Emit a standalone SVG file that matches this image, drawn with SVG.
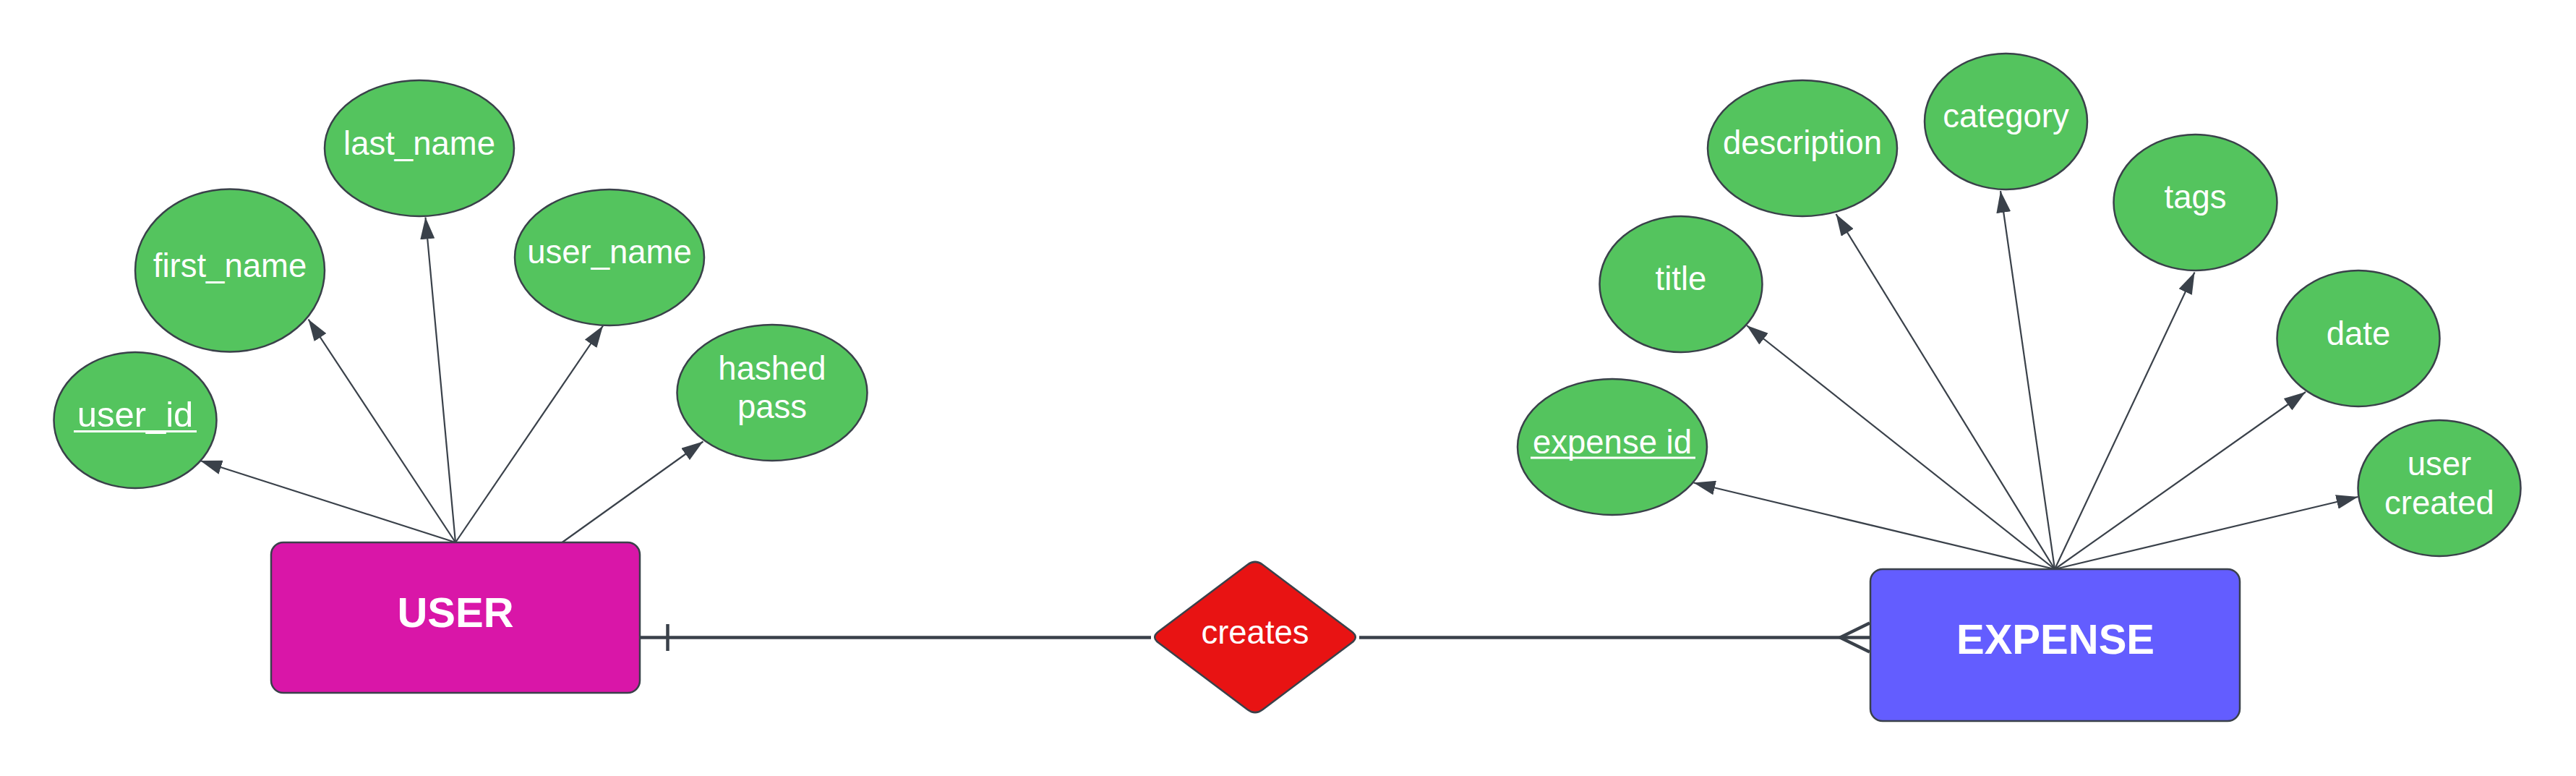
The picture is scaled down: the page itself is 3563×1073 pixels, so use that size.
<svg xmlns="http://www.w3.org/2000/svg" width="3563" height="1073" viewBox="0 0 3563 1073">
<style>
.attr{fill:#54C45E;stroke:#3A414A;stroke-width:2.5}
.t{font-family:"Liberation Sans",Arial,sans-serif;font-size:45.5px;fill:#ffffff;text-anchor:middle}
.ent{font-family:"Liberation Sans",Arial,sans-serif;font-size:58px;font-weight:bold;fill:#ffffff;text-anchor:middle}
.ul{stroke:#ffffff;stroke-width:3}
.arr{stroke:#3A414A;stroke-width:2.2;fill:none;marker-end:url(#ah)}
.rel{stroke:#3A414A;stroke-width:4.5;fill:none}
</style>
<defs>
<marker id="ah" markerUnits="userSpaceOnUse" markerWidth="30" markerHeight="20" refX="30" refY="10" orient="auto" viewBox="0 0 30 20">
<path d="M0,0 L30,10 L0,20 Z" fill="#3A414A"/>
</marker>
</defs>
<rect width="3563" height="1073" fill="#ffffff"/>

<g id="user">
<rect x="375" y="750" width="510" height="208" rx="17" fill="#D916A8" stroke="#3A414A" stroke-width="2.5"/>
<text class="ent" x="630" y="867">USER</text>
</g>
<g id="user_id">
<ellipse class="attr" cx="187" cy="581" rx="112.5" ry="94"/>
<text class="t" x="187" y="590" style="font-size:49px">user_id</text>
<line class="ul" x1="102" y1="596.5" x2="272" y2="596.5"/>
</g>
<g id="first_name">
<ellipse class="attr" cx="318" cy="374" rx="131" ry="112.5"/>
<text class="t" x="318" y="383">first_name</text>
</g>
<g id="last_name">
<ellipse class="attr" cx="580" cy="205" rx="131" ry="94"/>
<text class="t" x="580" y="214">last_name</text>
</g>
<g id="user_name">
<ellipse class="attr" cx="843" cy="356" rx="131" ry="94"/>
<text class="t" x="843" y="364">user_name</text>
</g>
<g id="hashed_pass">
<ellipse class="attr" cx="1068" cy="543" rx="131.5" ry="94"/>
<text class="t" x="1068" y="525">hashed</text>
<text class="t" x="1068" y="578">pass</text>
</g>

<g id="creates">
<path d="M1602.4,873.2 L1725.6,780.8 Q1736,773 1746.4,780.8 L1869.6,873.2 Q1880,881 1869.6,888.8 L1746.4,981.2 Q1736,989 1725.6,981.2 L1602.4,888.8 Q1592,881 1602.4,873.2 Z" fill="#E81313" stroke="#3A414A" stroke-width="2.5"/>
<text class="t" x="1736" y="889.5">creates</text>
</g>

<g id="expense">
<rect x="2587" y="787" width="511" height="210" rx="17" fill="#635DFF" stroke="#3A414A" stroke-width="2.5"/>
<text class="ent" x="2843" y="904">EXPENSE</text>
</g>
<g id="expense_id">
<ellipse class="attr" cx="2230" cy="618" rx="131" ry="94"/>
<text class="t" x="2230" y="627">expense id</text>
<line class="ul" x1="2117" y1="633" x2="2345" y2="633"/>
</g>
<g id="title">
<ellipse class="attr" cx="2325" cy="393" rx="112.5" ry="94"/>
<text class="t" x="2325" y="401">title</text>
</g>
<g id="description">
<ellipse class="attr" cx="2493" cy="205" rx="131" ry="94"/>
<text class="t" x="2493" y="213">description</text>
</g>
<g id="category">
<ellipse class="attr" cx="2774.5" cy="168" rx="112.5" ry="94"/>
<text class="t" x="2774.5" y="176">category</text>
</g>
<g id="tags">
<ellipse class="attr" cx="3036.5" cy="280" rx="113" ry="94"/>
<text class="t" x="3036.5" y="288">tags</text>
</g>
<g id="date">
<ellipse class="attr" cx="3262" cy="468" rx="112.5" ry="94"/>
<text class="t" x="3262" y="477">date</text>
</g>
<g id="user_created">
<ellipse class="attr" cx="3374" cy="675" rx="112.5" ry="94"/>
<text class="t" x="3374" y="657">user</text>
<text class="t" x="3374" y="711">created</text>
</g>

<g id="connectors">
<line class="arr" x1="630" y1="750" x2="277" y2="637"/>
<line class="arr" x1="630" y1="750" x2="426.5" y2="441.5"/>
<line class="arr" x1="630" y1="750" x2="588.5" y2="300.5"/>
<line class="arr" x1="630" y1="750" x2="834" y2="450.5"/>
<line class="arr" x1="777.5" y1="750" x2="972.5" y2="610.5"/>

<line class="arr" x1="2842" y1="787" x2="2342.5" y2="667.5"/>
<line class="arr" x1="2842" y1="787" x2="2416" y2="450"/>
<line class="arr" x1="2842" y1="787" x2="2539.5" y2="296"/>
<line class="arr" x1="2842" y1="787" x2="2767" y2="264"/>
<line class="arr" x1="2842" y1="787" x2="3035.5" y2="376.5"/>
<line class="arr" x1="2842" y1="787" x2="3189" y2="542"/>
<line class="arr" x1="2842" y1="787" x2="3261.5" y2="687"/>

<line class="rel" x1="885" y1="881.5" x2="1592" y2="881.5"/>
<line class="rel" x1="923.5" y1="863" x2="923.5" y2="900"/>
<line class="rel" x1="1880" y1="881.5" x2="2587" y2="881.5"/>
<polyline class="rel" points="2586,861.5 2545,881.5 2586,901.5"/>
</g>
</svg>
